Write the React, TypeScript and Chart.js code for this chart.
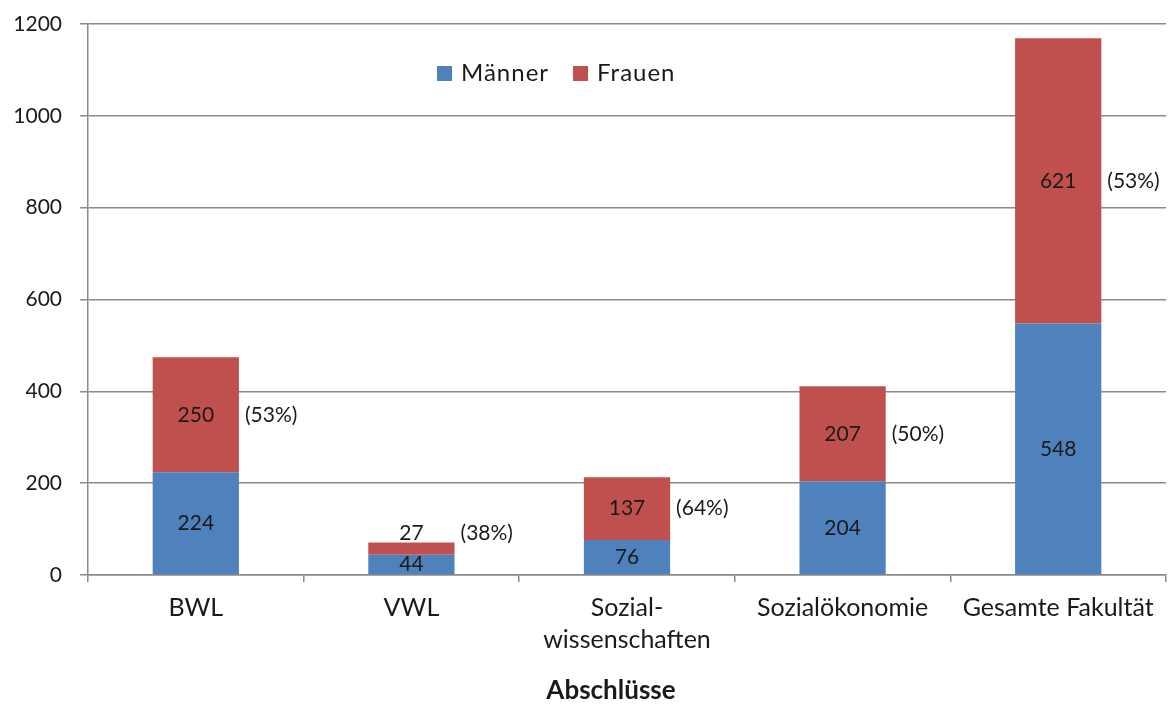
import React, { useEffect, useRef } from "react";
import { Chart, registerables } from "chart.js";

Chart.register(...registerables);

const categories: (string | string[])[] = [
  "BWL",
  "VWL",
  ["Sozial-", "wissenschaften"],
  "Sozialökonomie",
  "Gesamte Fakultät",
];
const maenner = [224, 44, 76, 204, 548];
const frauen = [250, 27, 137, 207, 621];
const frauenAnteil = ["(53%)", "(38%)", "(64%)", "(50%)", "(53%)"];
const seriesNames = ["Männer", "Frauen"];
const yTicks = [0, 200, 400, 600, 800, 1000, 1200];
const axisTitle = "Abschlüsse";

const BLUE = "#4F81BD";
const RED = "#C0504D";
const TEXT = "#1a1a1a";
const FONT = "Lato";

const labelPlugin = {
  id: "barLabels",
  afterDatasetsDraw(chart: any) {
    const ctx = chart.ctx;
    ctx.save();
    ctx.font = `21px ${FONT}`;
    ctx.fillStyle = TEXT;
    ctx.textBaseline = "middle";
    chart.data.datasets.forEach((ds: any, di: number) => {
      const meta = chart.getDatasetMeta(di);
      meta.data.forEach((bar: any, i: number) => {
        const p = bar.getProps(["x", "y", "base", "width"], true);
        const h = Math.abs(p.base - p.y);
        let cy = (p.y + p.base) / 2;
        if (h < 18) cy = Math.min(p.y, p.base) - 9;
        ctx.textAlign = "center";
        ctx.fillText(String(ds.data[i]), p.x, cy);
        if (di === 1) {
          ctx.textAlign = "left";
          ctx.fillText(frauenAnteil[i], p.x + p.width / 2 + 6, cy);
        }
      });
    });
    ctx.restore();
  },
};

const legendPlugin = {
  id: "customLegend",
  afterDraw(chart: any) {
    const ctx = chart.ctx;
    ctx.save();
    ctx.font = `24px ${FONT}`;
    (ctx as any).letterSpacing = "1px";
    ctx.textBaseline = "middle";
    ctx.textAlign = "left";
    let x = 437;
    const y = 73;
    chart.data.datasets.forEach((ds: any) => {
      ctx.fillStyle = ds.backgroundColor;
      ctx.fillRect(x, y - 7, 15, 15);
      ctx.fillStyle = TEXT;
      ctx.fillText(ds.label, x + 24, y);
      x += 24 + ctx.measureText(ds.label).width + 24;
    });
    (ctx as any).letterSpacing = "0px";
    ctx.font = `bold 26px ${FONT}`;
    ctx.textAlign = "center";
    ctx.fillText(axisTitle, 611, 691);
    ctx.restore();
  },
};

export default function App() {
  const ref = useRef<HTMLCanvasElement>(null);
  useEffect(() => {
    if (!ref.current) return;
    const chart = new Chart(ref.current, {
      type: "bar",
      data: {
        labels: categories,
        datasets: [
          { label: seriesNames[0], data: maenner, backgroundColor: BLUE, barPercentage: 0.4, categoryPercentage: 1 },
          { label: seriesNames[1], data: frauen, backgroundColor: RED, barPercentage: 0.4, categoryPercentage: 1 },
        ],
      },
      options: {
        responsive: false,
        animation: false,
        layout: { padding: { left: 0, right: 6, top: 24, bottom: 0 } },
        plugins: { legend: { display: false }, tooltip: { enabled: false } },
        scales: {
          x: {
            stacked: true,
            afterFit: (s: any) => { s.height = 129; },
            grid: { display: true, drawOnChartArea: false, drawTicks: true, tickLength: 7, color: "#8a8a8a", lineWidth: 1.5, offset: true },
            border: { display: true, color: "#8a8a8a", width: 1.5 },
            ticks: { color: TEXT, font: { family: FONT, size: 25, lineHeight: 1.28 }, padding: 10, maxRotation: 0, autoSkip: false },
          },
          y: {
            stacked: true,
            min: 0,
            max: 1200,
            afterFit: (s: any) => { s.width = 88; s.paddingTop = 0; s.paddingBottom = 0; },
            afterBuildTicks: (s: any) => { s.ticks = yTicks.map((v) => ({ value: v })); },
            grid: { color: "#8a8a8a", lineWidth: 1.5, tickLength: 8, drawTicks: true },
            border: { display: true, color: "#8a8a8a", width: 1.5 },
            ticks: { color: TEXT, font: { family: FONT, size: 21 }, padding: 18, callback: (v: any) => String(v) },
          },
        },
      },
      plugins: [labelPlugin, legendPlugin],
    });
    return () => chart.destroy();
  }, []);
  return (
    <div style={{ position: "absolute", left: 0, top: 0, width: 1172, height: 704, background: "#fff" }}>
      <canvas ref={ref} width={1172} height={704} />
    </div>
  );
}
